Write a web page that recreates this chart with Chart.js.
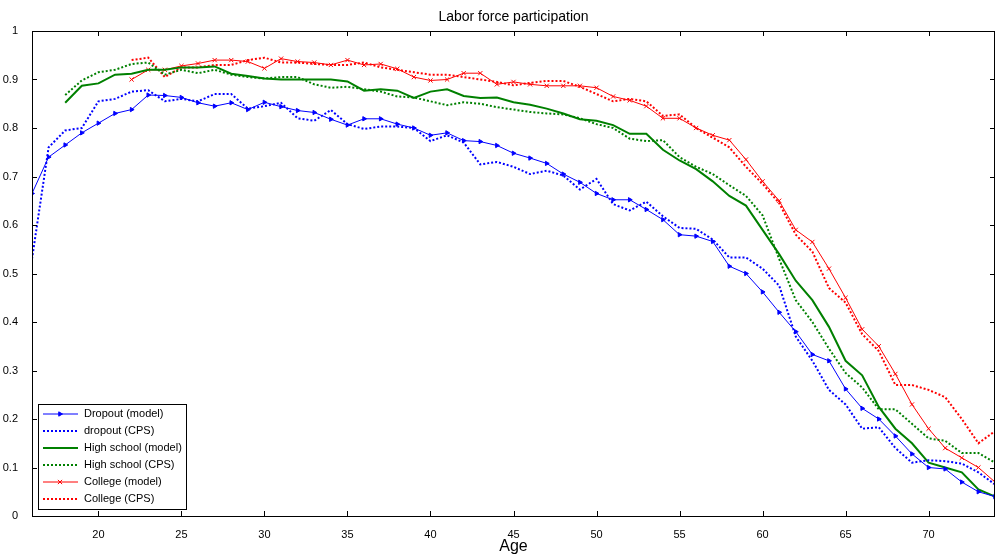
<!DOCTYPE html>
<html>
<head>
<meta charset="utf-8">
<script src="https://cdn.jsdelivr.net/npm/chart.js@4"></script>
<style>
  body { margin: 0; background: #fff; }
  #wrap { width: 1000px; height: 559px; }
</style>
</head>
<body>
<div id="wrap"><canvas id="grafico"></canvas></div>
<script>
// edades de inicio de cada serie
const dropoutStart = 16;
const hsStart = 18;
const collegeStart = 22;

const dropoutModel = [.665,.74,.765,.79,.81,.83,.838,.868,.867,.863,.852,.845,.852,.838,.853,.844,.836,.832,.818,.806,.819,.819,.808,.8,.785,.79,.774,.772,.764,.748,.738,.727,.705,.688,.665,.652,.652,.632,.611,.58,.577,.566,.515,.5,.462,.42,.38,.333,.32,.262,.222,.2,.165,.128,.1,.097,.07,.05,.04];
const dropoutCPS = [.53,.76,.795,.8,.855,.86,.875,.878,.855,.86,.855,.87,.87,.84,.845,.852,.82,.815,.837,.808,.798,.803,.803,.8,.773,.785,.77,.725,.73,.72,.705,.712,.702,.673,.695,.643,.63,.648,.618,.594,.592,.57,.533,.533,.51,.475,.37,.32,.26,.23,.18,.183,.14,.11,.115,.113,.108,.09,.065];
const hsModel = [.852,.887,.892,.91,.912,.92,.92,.925,.925,.927,.912,.907,.902,.9,.9,.9,.9,.896,.877,.88,.877,.862,.875,.88,.866,.862,.863,.853,.848,.84,.83,.818,.815,.806,.788,.788,.755,.733,.715,.69,.66,.64,.59,.54,.485,.445,.39,.32,.29,.225,.18,.15,.11,.1,.09,.055,.04];
const hsCPS = [.868,.898,.915,.92,.932,.935,.91,.92,.913,.92,.91,.905,.902,.905,.905,.89,.883,.885,.88,.875,.865,.863,.855,.847,.853,.85,.843,.838,.833,.83,.828,.82,.808,.8,.778,.773,.775,.74,.72,.705,.682,.66,.62,.53,.445,.4,.345,.295,.265,.22,.22,.19,.16,.155,.13,.13,.11];
const collegeModel = [.9,.92,.92,.928,.933,.94,.94,.937,.923,.943,.937,.935,.93,.94,.93,.932,.922,.905,.898,.9,.913,.913,.89,.895,.89,.887,.887,.887,.883,.865,.857,.845,.82,.82,.8,.785,.775,.735,.69,.65,.59,.565,.51,.45,.385,.35,.293,.23,.18,.14,.12,.1,.07];
const collegeCPS = [.94,.945,.905,.925,.925,.93,.93,.94,.945,.935,.935,.932,.93,.93,.935,.925,.92,.915,.91,.91,.905,.9,.895,.888,.893,.897,.897,.885,.87,.855,.86,.855,.825,.828,.8,.78,.76,.72,.685,.645,.58,.545,.47,.44,.375,.34,.27,.27,.26,.245,.2,.15,.175];

const xTicks = [20, 25, 30, 35, 40, 45, 50, 55, 60, 65, 70];
const yTicks = [0, 0.1, 0.2, 0.3, 0.4, 0.5, 0.6, 0.7, 0.8, 0.9, 1];

function puntos(valores, inicio) {
    return valores.map((v, i) => ({ x: inicio + i, y: v }));
}

const azul = '#0000ff', verde = '#008000', rojo = '#ff0000';

const series = [
    { label: 'Dropout (model)', data: puntos(dropoutModel, dropoutStart), borderColor: azul, backgroundColor: azul, borderWidth: 1, pointStyle: 'triangle', rotation: 90, pointRadius: 2.5 },
    { label: 'dropout (CPS)', data: puntos(dropoutCPS, dropoutStart), borderColor: azul, borderWidth: 2, borderDash: [2, 2], pointRadius: 0 },
    { label: 'High school (model)', data: puntos(hsModel, hsStart), borderColor: verde, borderWidth: 2, pointRadius: 0 },
    { label: 'High school (CPS)', data: puntos(hsCPS, hsStart), borderColor: verde, borderWidth: 2, borderDash: [2, 2], pointRadius: 0 },
    { label: 'College (model)', data: puntos(collegeModel, collegeStart), borderColor: rojo, backgroundColor: rojo, borderWidth: 1, pointStyle: 'crossRot', pointRadius: 3 },
    { label: 'College (CPS)', data: puntos(collegeCPS, collegeStart), borderColor: rojo, borderWidth: 2, borderDash: [2, 2], pointRadius: 0 }
];

// marco, titulo y leyenda al estilo MATLAB
const marco = {
    id: 'marco',
    afterDraw(chart) {
        const { ctx, chartArea: a } = chart;
        ctx.save();
        ctx.strokeStyle = '#000';
        ctx.lineWidth = 1;
        ctx.strokeRect(a.left + 0.5, a.top + 0.5, a.right - a.left - 1, a.bottom - a.top);
        // ticks hacia adentro
        ctx.beginPath();
        const xs = chart.scales.x, ys = chart.scales.y;
        xTicks.forEach(t => {
            const px = Math.round(xs.getPixelForValue(t)) + 0.5;
            ctx.moveTo(px, a.bottom); ctx.lineTo(px, a.bottom - 5);
            ctx.moveTo(px, a.top); ctx.lineTo(px, a.top + 5);
        });
        yTicks.forEach(t => {
            const py = Math.round(ys.getPixelForValue(t)) + 0.5;
            ctx.moveTo(a.left, py); ctx.lineTo(a.left + 5, py);
            ctx.moveTo(a.right, py); ctx.lineTo(a.right - 5, py);
        });
        ctx.stroke();

        ctx.fillStyle = '#000';
        ctx.font = '14px Arial, "Liberation Sans"';
        ctx.textAlign = 'center';
        ctx.fillText('Labor force participation', (a.left + a.right) / 2, 21);
        ctx.font = '16px Arial, "Liberation Sans"';
        ctx.fillText('Age', (a.left + a.right) / 2, 551);

        // leyenda
        const lx = a.left + 6, ly = 404, lw = 148, lh = 105;
        ctx.fillStyle = '#fff';
        ctx.fillRect(lx, ly, lw, lh);
        ctx.strokeRect(lx + 0.5, ly + 0.5, lw, lh);
        ctx.font = '11px Arial, "Liberation Sans"';
        ctx.textAlign = 'left';
        ctx.textBaseline = 'middle';
        chart.data.datasets.forEach((d, i) => {
            const y = ly + 10 + i * 17;
            ctx.strokeStyle = d.borderColor;
            ctx.fillStyle = d.borderColor;
            ctx.lineWidth = d.borderWidth;
            ctx.setLineDash(d.borderDash || []);
            ctx.beginPath();
            ctx.moveTo(lx + 5, y); ctx.lineTo(lx + 40, y);
            ctx.stroke();
            ctx.setLineDash([]);
            if (d.pointRadius) {
                Chart.helpers.drawPoint(ctx, { pointStyle: d.pointStyle, rotation: d.rotation || 0, radius: d.pointRadius, borderWidth: 1 }, lx + 22, y);
            }
            ctx.fillStyle = '#000';
            ctx.fillText(d.label, lx + 46, y);
        });
        ctx.restore();
    }
};

new Chart(document.getElementById('grafico'), {
    type: 'line',
    data: { datasets: series },
    options: {
        responsive: true,
        maintainAspectRatio: false,
        animation: false,
        layout: { padding: { top: 31, right: 0 } },
        plugins: { legend: { display: false }, tooltip: { enabled: false } },
        elements: { line: { tension: 0 } },
        scales: {
            x: {
                type: 'linear', min: 16, max: 74,
                afterBuildTicks: s => { s.ticks = xTicks.map(v => ({ value: v })); },
                afterFit: s => { s.height = 43; },
                grid: { display: false },
                border: { display: false },
                ticks: { color: '#000', font: { size: 11, family: 'Arial, "Liberation Sans"' }, maxRotation: 0, padding: 4 }
            },
            y: {
                min: 0, max: 1,
                afterBuildTicks: s => { s.ticks = yTicks.map(v => ({ value: v })); },
                afterFit: s => { s.width = 32; },
                grid: { display: false },
                border: { display: false },
                ticks: { color: '#000', font: { size: 11, family: 'Arial, "Liberation Sans"' }, padding: 6, callback: v => String(Math.round(v * 10) / 10) }
            }
        }
    },
    plugins: [marco]
});
</script>
</body>
</html>
